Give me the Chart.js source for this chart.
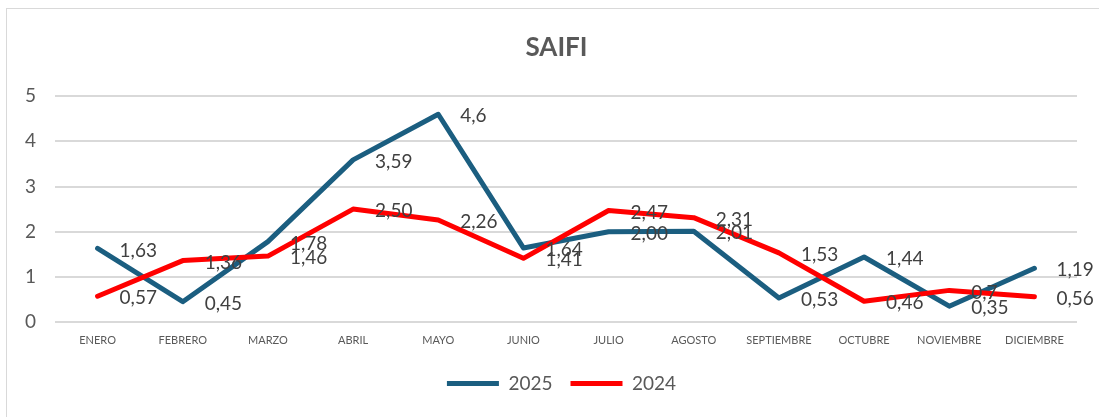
<!DOCTYPE html>
<html>
<head>
<meta charset="utf-8">
<script src="https://cdn.jsdelivr.net/npm/chart.js@4"></script>
<style>
  html, body { margin: 0; padding: 0; background: #fff; }
  #wrap { position: relative; width: 1099px; height: 417px; overflow: hidden; }
  #frame { position: absolute; left: 6px; top: 8px; width: 1200px; height: 500px; border: 1px solid #d9d9d9; box-sizing: border-box; }
  #saifi-chart { position: absolute; left: 0; top: 0; }
</style>
</head>
<body>
<div id="wrap">
  <div id="frame"></div>
  <canvas id="saifi-chart" width="1099" height="417"></canvas>
</div>
<script>
const meses = ['ENERO', 'FEBRERO', 'MARZO', 'ABRIL', 'MAYO', 'JUNIO', 'JULIO', 'AGOSTO', 'SEPTIEMBRE', 'OCTUBRE', 'NOVIEMBRE', 'DICIEMBRE'];
const saifi2025 = [1.63, 0.45, 1.78, 3.59, 4.6, 1.64, 2.00, 2.01, 0.53, 1.44, 0.35, 1.19];
const saifi2024 = [0.57, 1.36, 1.46, 2.50, 2.26, 1.41, 2.47, 2.31, 1.53, 0.46, 0.7, 0.56];
// etiquetas tal como aparecen (formato de origen)
const etiquetas2025 = ['1,63', '0,45', '1,78', '3,59', '4,6', '1,64', '2,00', '2,01', '0,53', '1,44', '0,35', '1,19'];
const etiquetas2024 = ['0,57', '1,36', '1,46', '2,50', '2,26', '1,41', '2,47', '2,31', '1,53', '0,46', '0,7', '0,56'];
const yTicks = [0, 1, 2, 3, 4, 5];

const fontFamily = "Lato, 'Liberation Sans', sans-serif";
const textColor = '#595959';

const valueLabels = {
  id: 'valueLabels',
  afterDatasetsDraw(chart) {
    const ctx = chart.ctx;
    ctx.save();
    ctx.font = '19px ' + fontFamily;
    ctx.fillStyle = '#404040';
    ctx.textAlign = 'left';
    ctx.textBaseline = 'middle';
    chart.data.datasets.forEach((ds, i) => {
      const meta = chart.getDatasetMeta(i);
      meta.data.forEach((pt, j) => {
        ctx.fillText(ds.valueText[j], pt.x + 22, pt.y + 2);
      });
    });
    ctx.restore();
  }
};

// el titulo y la leyenda van centrados en todo el marco, no solo en el area del grafico
const shiftBoxes = {
  id: 'shiftBoxes',
  afterLayout(chart) {
    chart.titleBlock.left += 18;
    chart.titleBlock.right += 18;
    chart.legend.left += 23;
    chart.legend.right += 23;
  }
};

new Chart(document.getElementById('saifi-chart'), {
  type: 'line',
  data: {
    labels: meses,
    datasets: [{
      label: '2025',
      data: saifi2025,
      valueText: etiquetas2025,
      borderColor: '#1B5E80',
      backgroundColor: '#1B5E80',
      borderWidth: 5,
      borderCapStyle: 'round',
      borderJoinStyle: 'round',
      pointRadius: 0,
      tension: 0,
      order: 1
    }, {
      label: '2024',
      data: saifi2024,
      valueText: etiquetas2024,
      borderColor: '#FF0000',
      backgroundColor: '#FF0000',
      borderWidth: 5,
      borderCapStyle: 'round',
      borderJoinStyle: 'round',
      pointRadius: 0,
      tension: 0,
      order: 0
    }]
  },
  options: {
    responsive: false,
    animation: false,
    layout: { padding: { left: 0, right: 22, top: 25, bottom: 14 } },
    plugins: {
      title: {
        display: true,
        text: 'SAIFI',
        color: textColor,
        font: { family: fontFamily, size: 26, weight: 'bold' },
        padding: { top: 7, bottom: 33 }
      },
      legend: {
        position: 'bottom',
        labels: {
          usePointStyle: true,
          pointStyle: 'line',
          boxWidth: 52,
          pointStyleWidth: 52,
          color: textColor,
          font: { family: fontFamily, size: 19 },
          padding: 18,
          sort: (a, b) => a.datasetIndex - b.datasetIndex
        }
      },
      tooltip: { enabled: false }
    },
    scales: {
      x: {
        offset: true,
        grid: { display: false, drawTicks: false },
        border: { display: false },
        ticks: { color: textColor, font: { family: fontFamily, size: 11 }, padding: 12, maxRotation: 0, autoSkip: false },
        afterFit: scale => { scale.height = 34; }
      },
      y: {
        min: 0,
        max: 5,
        afterBuildTicks: scale => { scale.ticks = yTicks.map(v => ({ value: v })); },
        grid: { color: '#d9d9d9', lineWidth: 2, drawTicks: false },
        border: { display: false },
        ticks: { color: textColor, font: { family: fontFamily, size: 19 }, padding: 19 },
        afterFit: scale => { scale.width = 55; }
      }
    }
  },
  plugins: [valueLabels, shiftBoxes]
});
</script>
</body>
</html>
